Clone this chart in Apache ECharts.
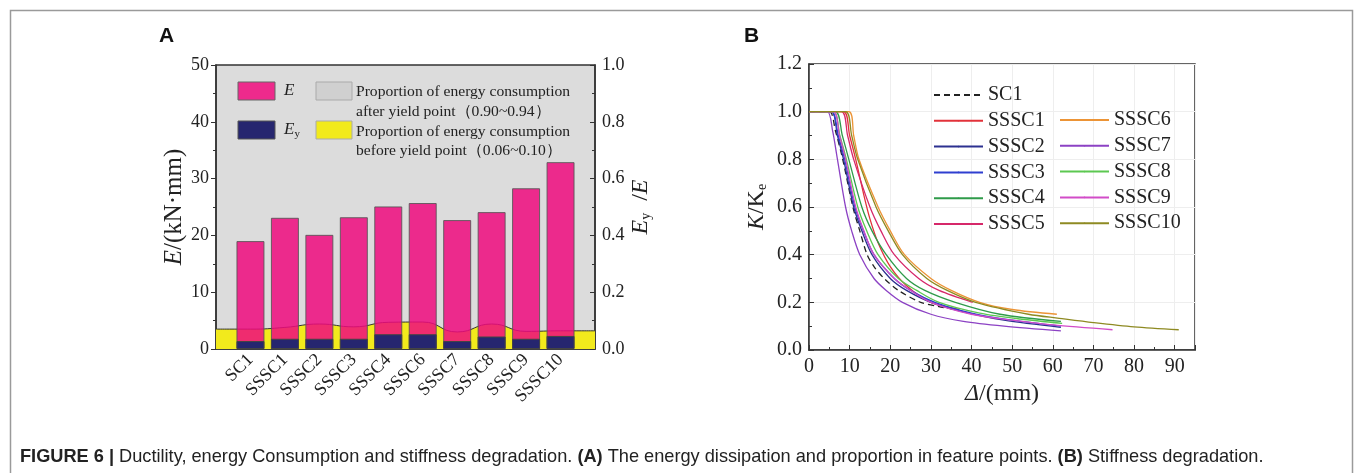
<!DOCTYPE html>
<html>
<head>
<meta charset="utf-8">
<script src="https://cdn.jsdelivr.net/npm/echarts@6/dist/echarts.min.js"></script>
<style>
  html, body { margin: 0; padding: 0; background: #fff; }
  #main { width: 1358px; height: 473px; }
</style>
</head>
<body>
<div id="main"></div>
<script>
// panel A data
var categories = ['SC1', 'SSSC1', 'SSSC2', 'SSSC3', 'SSSC4', 'SSSC6', 'SSSC7', 'SSSC8', 'SSSC9', 'SSSC10'];
var energyE  = [19.0, 23.1, 20.1, 23.2, 25.1, 25.7, 22.7, 24.1, 28.3, 32.9];
var energyEy = [1.4, 1.8, 1.8, 1.8, 2.6, 2.6, 1.4, 2.2, 1.8, 2.3];
// proportion before yield (right axis), one value per slot incl. both edges
var yieldShare = [0.070, 0.070, 0.076, 0.088, 0.078, 0.094, 0.095, 0.060, 0.088, 0.062, 0.064, 0.064];

// panel B data: [delta (mm), K/Ke]
var sc1Curve   = [[0,1],[5,1],[6.5,0.92],[8.3,0.8],[10.8,0.6],[12.5,0.5],[14.3,0.4],[16,0.35],[18.5,0.3],[22,0.25],[27.5,0.2],[32,0.182],[36,0.17]];
var sssc1Curve = [[0,1],[8.5,1],[10,0.9],[11.5,0.8],[13.5,0.65],[15,0.55],[17,0.45],[20,0.35],[24,0.27],[30,0.2],[37,0.17]];
var sssc2Curve = [[0,1],[5.5,1],[7,0.9],[8.5,0.8],[11,0.6],[13,0.5],[15.5,0.4],[20,0.3],[24,0.25],[30,0.2],[38,0.16],[48,0.125],[62,0.095]];
var sssc3Curve = [[0,1],[5.5,1],[7.2,0.9],[8.8,0.8],[11.3,0.6],[13.4,0.5],[16,0.4],[21,0.3],[25,0.25],[31,0.2],[40,0.155],[50,0.125],[62,0.1]];
var sssc4Curve = [[0,1],[6.5,1],[8.2,0.9],[9.8,0.8],[13,0.6],[15.5,0.5],[19,0.4],[24,0.3],[28.5,0.25],[36,0.2],[47,0.15],[62,0.12]];
var sssc5Curve = [[0,1],[8,1],[9.5,0.9],[11,0.8],[15,0.6],[17.7,0.5],[21,0.4],[27,0.3],[32,0.25],[40.3,0.2]];
var sssc6Curve = [[0,1],[9.8,1],[11,0.9],[12.3,0.8],[17,0.6],[20,0.5],[23.5,0.4],[30,0.3],[35,0.25],[42,0.2],[50,0.17],[61,0.15]];
var sssc7Curve = [[0,1],[4.5,1],[5.8,0.92],[7,0.8],[9,0.6],[10.5,0.5],[12.5,0.4],[16,0.3],[19,0.25],[23,0.2],[30,0.15],[38,0.12],[48,0.1],[62,0.08]];
var sssc8Curve = [[0,1],[6,1],[7.6,0.9],[9.2,0.8],[12,0.6],[14.2,0.5],[17,0.4],[22,0.3],[26.5,0.25],[32,0.2],[42,0.155],[52,0.13],[62.3,0.112]];
var sssc9Curve = [[0,1],[6,1],[7.5,0.9],[9,0.8],[11.5,0.6],[13.5,0.5],[16,0.4],[21,0.3],[25,0.25],[30,0.2],[40,0.15],[50,0.125],[60,0.105],[74.7,0.085]];
var sssc10Curve = [[0,1],[9,1],[10.5,0.9],[12,0.8],[16.5,0.6],[19.5,0.5],[23,0.4],[29,0.3],[34,0.25],[41,0.2],[54,0.15],[61.6,0.133],[70,0.115],[80,0.097],[91,0.085]];

var curveNames  = ['SC1', 'SSSC1', 'SSSC2', 'SSSC3', 'SSSC4', 'SSSC5', 'SSSC6', 'SSSC7', 'SSSC8', 'SSSC9', 'SSSC10'];
var curveColors = ['#222222', '#e2323a', '#2c3190', '#2f3fd0', '#2f9b4a', '#d6286a', '#ec9436', '#8c42c4', '#5cc851', '#d24cc8', '#8e8a22'];
var curveData   = [sc1Curve, sssc1Curve, sssc2Curve, sssc3Curve, sssc4Curve, sssc5Curve, sssc6Curve, sssc7Curve, sssc8Curve, sssc9Curve, sssc10Curve];

var serif = 'Liberation Serif';
var myChart = echarts.init(document.getElementById('main'));

var curveSeries = curveNames.map(function (n, i) {
    return {
        name: n,
        type: 'line',
        xAxisIndex: 1,
        yAxisIndex: 2,
        data: curveData[i],
        smooth: 0.3,
        symbol: 'none',
        lineStyle: { color: curveColors[i], width: 1.3, type: i === 0 ? [6, 4] : 'solid' },
        itemStyle: { color: curveColors[i] }
    };
});

// legend look shared by both columns of panel B
var legendBase = {
    orient: 'vertical', padding: 0, itemWidth: 49, itemHeight: 2, itemGap: 5.8,
    textStyle: { fontFamily: serif, fontSize: 20, color: '#222', lineHeight: 20 }
};

var option = {
    backgroundColor: '#ffffff',
    animation: false,
    grid: [
        { left: 216, top: 65, width: 379, height: 284, show: true, backgroundColor: '#dcdcdc', borderColor: '#333', borderWidth: 1.5 },
        { left: 809, top: 64, width: 386, height: 286, show: true, borderColor: '#333', borderWidth: 1.5 }
    ],
    legend: [
        Object.assign({ data: ['SC1', 'SSSC1', 'SSSC2', 'SSSC3', 'SSSC4', 'SSSC5'], left: 933, top: 85 }, legendBase),
        Object.assign({ data: ['SSSC6', 'SSSC7', 'SSSC8', 'SSSC9', 'SSSC10'], left: 1059, top: 110 }, legendBase)
    ],
    xAxis: [
        {
            type: 'category', gridIndex: 0, boundaryGap: false,
            data: [''].concat(categories, ['']),
            axisLine: { lineStyle: { color: '#333', width: 1.5 } },
            axisTick: { show: false },
            axisLabel: { interval: 0, rotate: 45, fontFamily: serif, fontSize: 18, color: '#222', margin: 8 }
        },
        {
            type: 'value', gridIndex: 1, min: 0, max: 95, interval: 10,
            name: '{i|Δ}/(mm)', nameLocation: 'middle', nameGap: 30,
            nameTextStyle: { fontFamily: serif, fontSize: 24, color: '#222', rich: { i: { fontFamily: serif, fontStyle: 'italic', fontSize: 24 } } },
            axisLine: { lineStyle: { color: '#333', width: 1.5 } },
            axisTick: { inside: true, length: 5, lineStyle: { color: '#333' } },
            minorTick: { show: true, splitNumber: 2, length: 3, lineStyle: { color: '#333' } },
            axisLabel: { fontFamily: serif, fontSize: 20, color: '#222', margin: 7, showMaxLabel: false },
            splitLine: { show: true, lineStyle: { color: '#eeeeee' } }
        }
    ],
    yAxis: [
        {
            type: 'value', gridIndex: 0, min: 0, max: 50, interval: 10,
            name: '{i|E}/(kN·mm)', nameLocation: 'middle', nameGap: 24, nameRotate: 90,
            nameTextStyle: { fontFamily: serif, fontSize: 25, color: '#222', rich: { i: { fontFamily: serif, fontStyle: 'italic', fontSize: 25 } } },
            axisLine: { show: true, lineStyle: { color: '#333', width: 1.5 } },
            axisTick: { show: true, length: 5, lineStyle: { color: '#333' } },
            minorTick: { show: true, splitNumber: 2, length: 3, lineStyle: { color: '#333' } },
            axisLabel: { fontFamily: serif, fontSize: 18, color: '#222', margin: 7 },
            splitLine: { show: false }
        },
        {
            type: 'value', gridIndex: 0, position: 'right', min: 0, max: 1, interval: 0.2,
            name: '{i|E}{s|y}{n|  /}{i|E}', nameLocation: 'middle', nameGap: 26, nameRotate: 90,
            nameTextStyle: { fontFamily: serif, fontSize: 24, color: '#222',
                rich: { i: { fontFamily: serif, fontStyle: 'italic', fontSize: 24 }, s: { fontFamily: serif, fontSize: 14, padding: [11, 0, 0, 0] }, n: { fontFamily: serif, fontSize: 24 } } },
            axisLine: { show: true, lineStyle: { color: '#333', width: 1.5 } },
            axisTick: { show: true, inside: true, length: 5, lineStyle: { color: '#333' } },
            minorTick: { show: true, splitNumber: 2, length: 3, lineStyle: { color: '#333' } },
            axisLabel: { fontFamily: serif, fontSize: 18, color: '#222', margin: 7, formatter: function (v) { return v.toFixed(1); } },
            splitLine: { show: false }
        },
        {
            type: 'value', gridIndex: 1, min: 0, max: 1.2, interval: 0.2,
            name: '{i|K}/K{s|e}', nameLocation: 'middle', nameGap: 40, nameRotate: 90,
            nameTextStyle: { fontFamily: serif, fontSize: 24, color: '#222',
                rich: { i: { fontFamily: serif, fontStyle: 'italic', fontSize: 24 }, s: { fontFamily: serif, fontSize: 14, padding: [11, 0, 0, 0] } } },
            axisLine: { show: true, lineStyle: { color: '#333', width: 1.5 } },
            axisTick: { show: true, inside: true, length: 5, lineStyle: { color: '#333' } },
            minorTick: { show: true, splitNumber: 2, length: 3, lineStyle: { color: '#333' } },
            axisLabel: { fontFamily: serif, fontSize: 20, color: '#222', margin: 7, formatter: function (v) { return v.toFixed(1); } },
            splitLine: { show: true, lineStyle: { color: '#eeeeee' } }
        }
    ],
    series: [
        {
            name: 'before yield', type: 'line', xAxisIndex: 0, yAxisIndex: 1, z: 1,
            data: yieldShare, smooth: 0.5, symbol: 'none',
            lineStyle: { color: '#333', width: 1 },
            areaStyle: { color: '#f2ea1c', opacity: 1 }
        },
        {
            name: 'E', type: 'bar', xAxisIndex: 0, yAxisIndex: 0, z: 2,
            data: ['-'].concat(energyE, ['-']), barWidth: 28, barGap: '-100%',
            itemStyle: { color: '#ee0a7e', borderColor: '#555', borderWidth: 1, opacity: 0.85 }
        },
        {
            name: 'Ey', type: 'bar', xAxisIndex: 0, yAxisIndex: 0, z: 3,
            data: ['-'].concat(energyEy, ['-']), barWidth: 28, barGap: '-100%',
            itemStyle: { color: '#26266f', borderColor: '#444', borderWidth: 1 }
        }
    ].concat(curveSeries),
    graphic: [
        { type: 'rect', left: 8, top: 8, shape: { width: 1342, height: 480 }, style: { fill: 'none', stroke: '#9a9a9a', lineWidth: 1.5 }, silent: true },
        { type: 'text', left: 159, top: 26, style: { text: 'A', font: 'bold 21px "Liberation Sans"', fill: '#111' } },
        { type: 'text', left: 744, top: 26, style: { text: 'B', font: 'bold 21px "Liberation Sans"', fill: '#111' } },
        // panel A legend
        { type: 'rect', shape: { x: 238, y: 82, width: 37, height: 18 }, style: { fill: '#ee2a8c', stroke: '#666', lineWidth: 1 } },
        { type: 'rect', shape: { x: 316, y: 82, width: 36, height: 18 }, style: { fill: '#d0d0d0', stroke: '#aaa', lineWidth: 1 } },
        { type: 'rect', shape: { x: 238, y: 121, width: 37, height: 18 }, style: { fill: '#26266f', stroke: '#555', lineWidth: 1 } },
        { type: 'rect', shape: { x: 316, y: 121, width: 36, height: 18 }, style: { fill: '#f2ea1c', stroke: '#aaa', lineWidth: 1 } },
        { type: 'text', style: { x: 284, y: 91, text: 'E', verticalAlign: 'middle', font: 'italic 17px "Liberation Serif"', fill: '#222' } },
        { type: 'text', style: { x: 284, y: 130, text: '{i|E}{s|y}', verticalAlign: 'middle', fill: '#222',
            rich: { i: { fontFamily: serif, fontStyle: 'italic', fontSize: 17 }, s: { fontFamily: serif, fontSize: 11, padding: [9, 0, 0, 0] } } } },
        { type: 'text', style: { x: 356, y: 92, text: 'Proportion of energy consumption', verticalAlign: 'middle', font: '15.6px "Liberation Serif"', fill: '#222' } },
        { type: 'text', style: { x: 356, y: 112, text: 'after yield point（0.90~0.94）', verticalAlign: 'middle', font: '15.6px "Liberation Serif"', fill: '#222' } },
        { type: 'text', style: { x: 356, y: 132, text: 'Proportion of energy consumption', verticalAlign: 'middle', font: '15.6px "Liberation Serif"', fill: '#222' } },
        { type: 'text', style: { x: 356, y: 151, text: 'before yield point（0.06~0.10）', verticalAlign: 'middle', font: '15.6px "Liberation Serif"', fill: '#222' } },
        // caption
        { type: 'text', style: { x: 20, y: 457, verticalAlign: 'middle', fill: '#222',
            text: '{b|FIGURE 6 |} Ductility, energy Consumption and stiffness degradation. {b|(A)} The energy dissipation and proportion in feature points. {b|(B)} Stiffness degradation.',
            font: '18.2px "Liberation Sans"',
            rich: { b: { fontFamily: 'Liberation Sans', fontWeight: 'bold', fontSize: 18.2 } } } }
    ]
};

myChart.setOption(option);
</script>
</body>
</html>
